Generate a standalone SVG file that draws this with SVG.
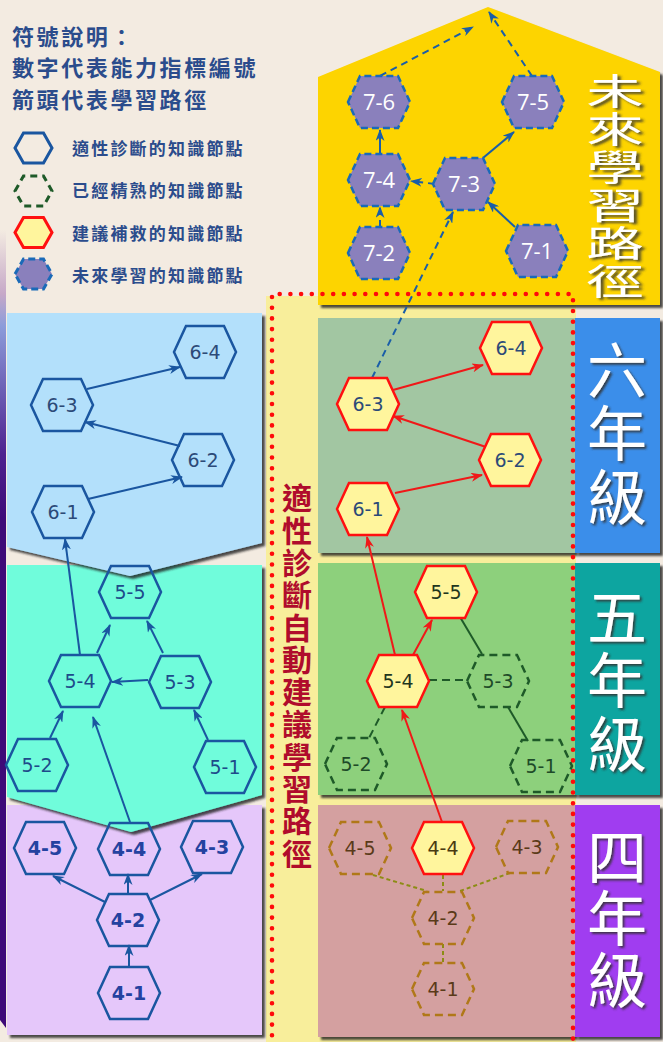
<svg xmlns="http://www.w3.org/2000/svg" xmlns:xlink="http://www.w3.org/1999/xlink" width="663" height="1042" viewBox="0 0 663 1042">
<style>
.nodeT{font-family:"DejaVu Sans","Liberation Sans",sans-serif;font-size:19px;text-anchor:middle}
.futT{font-family:"Open Sans","DejaVu Sans",sans-serif;font-size:22px;text-anchor:middle;fill:#ffffff}
.hb{fill:none;stroke:#1A56A0;stroke-width:2.5}
.hr{fill:#FFF59D;stroke:#FF1010;stroke-width:2.5}
.hg{fill:none;stroke:#1E5A28;stroke-width:2.5;stroke-dasharray:8 5}
.hbr{fill:none;stroke:#B07818;stroke-width:2.5;stroke-dasharray:8 5}
.hf{fill:#8A80BC;stroke:#1A6AB8;stroke-width:2.5;stroke-dasharray:7 4}
.lb{stroke:#1A56A0;stroke-width:2;fill:none;marker-end:url(#ab)}
.lr{stroke:#F01818;stroke-width:2;fill:none;marker-end:url(#ar)}
.lf{stroke:#1A5EA8;stroke-width:2;fill:none;marker-end:url(#af)}
.lfd{stroke:#1A5EA8;stroke-width:2;fill:none;stroke-dasharray:7 5;marker-end:url(#af)}
.gs{stroke:#1E5A28;stroke-width:2;fill:none}
.gd{stroke:#1E5A28;stroke-width:2;fill:none;stroke-dasharray:8 5}
.od{stroke:#8C8C14;stroke-width:2;fill:none;stroke-dasharray:4 3}
.leg{font-family:"Noto Sans CJK TC","Noto Sans CJK SC",sans-serif;font-weight:bold;fill:#2B4C8C}
.grade{font-family:"Noto Sans CJK TC","Noto Sans CJK SC",sans-serif;font-size:60px;fill:#ffffff;writing-mode:vertical-rl;filter:url(#ts)}
.fut{font-family:"Noto Sans CJK TC","Noto Sans CJK SC",sans-serif;font-size:36px;fill:#ffffff;writing-mode:vertical-rl;letter-spacing:2px;filter:url(#ts)}
.vred{font-family:"Noto Sans CJK TC","Noto Sans CJK SC",sans-serif;font-size:30px;font-weight:bold;fill:#B00C2C;writing-mode:vertical-rl;letter-spacing:2.3px}
</style>
<defs>
<path id="hex" d="M-31,0 L-19,-26 L19,-26 L31,0 L19,26 L-19,26 Z"/>
<path id="lhex" d="M-18.5,0 L-10,-15 L10,-15 L18.5,0 L10,15 L-10,15 Z"/>
<marker id="ab" markerUnits="userSpaceOnUse" markerWidth="12" markerHeight="9" refX="11" refY="4.5" orient="auto"><path d="M0,0 L12,4.5 L0,9 L3.5,4.5 Z" fill="#1A56A0"/></marker>
<marker id="ar" markerUnits="userSpaceOnUse" markerWidth="12" markerHeight="9" refX="11" refY="4.5" orient="auto"><path d="M0,0 L12,4.5 L0,9 L3.5,4.5 Z" fill="#F01818"/></marker>
<marker id="af" markerUnits="userSpaceOnUse" markerWidth="12" markerHeight="9" refX="11" refY="4.5" orient="auto"><path d="M0,0 L12,4.5 L0,9 L3.5,4.5 Z" fill="#1A5EA8"/></marker>
<filter id="sh" x="-5%" y="-5%" width="115%" height="115%"><feDropShadow dx="3" dy="3" stdDeviation="1.2" flood-color="#222" flood-opacity="0.8"/></filter>
<filter id="ts" x="-20%" y="-20%" width="150%" height="150%"><feDropShadow dx="2" dy="2" stdDeviation="1" flood-color="#333" flood-opacity="0.85"/></filter>
<linearGradient id="bar" x1="0" y1="230" x2="0" y2="1030" gradientUnits="userSpaceOnUse">
<stop offset="0" stop-color="#F3EBE1"/>
<stop offset="0.08" stop-color="#C6A8C8"/>
<stop offset="0.12" stop-color="#8C9CDA"/>
<stop offset="0.28" stop-color="#4E2290"/>
<stop offset="0.36" stop-color="#3E0A78"/>
<stop offset="1" stop-color="#3E0A78"/>
</linearGradient>
</defs>
<rect x="0" y="0" width="663" height="1042" fill="#F3EBE1"/>
<path d="M0,230 H6 V1028 L0,1020 Z" fill="url(#bar)"/>
<rect x="266" y="296" width="310" height="746" fill="#F8EE9B"/>
<g id="panel-left-4"><rect x="7" y="805" width="255" height="230" fill="#E5C7FA" filter="url(#sh)"/></g>
<g id="panel-left-5"><path d="M7,565 H262 V795 L131,832 L7,797 Z" fill="#6FFCDB" filter="url(#sh)"/></g>
<g id="panel-left-6"><path d="M7,313 H262 V543 L130,576 L7,547 Z" fill="#B3E0FB" filter="url(#sh)"/></g>
<g id="panel-future"><path d="M318,77 L488,7 L660,72 V305 H318 Z" fill="#FDD402" filter="url(#sh)"/>
<g transform="translate(615,0) scale(1.6,1)"><text class="fut" x="0" y="73">未來學習路徑</text></g></g>
<g id="panel-6"><rect x="318" y="318" width="257" height="235" fill="#A2C6A2" filter="url(#sh)"/><rect x="575" y="318" width="85" height="235" fill="#3A8EEA" filter="url(#sh)"/>
<text class="grade" x="617" y="340" style="letter-spacing:3.5px">六年級</text></g>
<g id="panel-5"><rect x="318" y="563" width="257" height="232" fill="#8DD07C" filter="url(#sh)"/><rect x="575" y="563" width="85" height="232" fill="#0DA5A0" filter="url(#sh)"/>
<text class="grade" x="617" y="587" style="letter-spacing:3.5px">五年級</text></g>
<g id="panel-4"><rect x="318" y="805" width="257" height="232" fill="#D4A0A0" filter="url(#sh)"/><rect x="575" y="805" width="85" height="232" fill="#A03CF0" filter="url(#sh)"/>
<text class="grade" x="617" y="827" style="letter-spacing:1.5px">四年級</text></g>
<path d="M272,1046 V294 H573 V1046" fill="none" stroke="#FF0A0A" stroke-width="4.6" stroke-linecap="round" stroke-dasharray="0 10.7"/>
<g id="vertical-label"><text class="vred" x="297" y="483">適性診斷自動建議學習路徑</text></g>
<g id="legend">
<text class="leg" x="12" y="45" style="font-size:22px;letter-spacing:2.6px">符號說明：</text>
<text class="leg" x="12" y="76" style="font-size:22px;letter-spacing:2.6px">數字代表能力指標編號</text>
<text class="leg" x="12" y="108" style="font-size:22px;letter-spacing:2.6px">箭頭代表學習路徑</text>
<use href="#lhex" x="33.5" y="148" fill="none" stroke="#1A56A0" stroke-width="3"/>
<use href="#lhex" x="33.5" y="191" fill="none" stroke="#1E5A28" stroke-width="3" stroke-dasharray="7 5"/>
<use href="#lhex" x="33.5" y="232.5" fill="#FFF59D" stroke="#FF1010" stroke-width="3"/>
<use href="#lhex" x="33.5" y="274" fill="#8A80BC" stroke="#1A6AB8" stroke-width="3" stroke-dasharray="7 4"/>
<text class="leg" x="72" y="155" style="font-size:17px;letter-spacing:2.2px">適性診斷的知識節點</text>
<text class="leg" x="72" y="197" style="font-size:17px;letter-spacing:2.2px">已經精熟的知識節點</text>
<text class="leg" x="72" y="240" style="font-size:17px;letter-spacing:2.2px">建議補救的知識節點</text>
<text class="leg" x="72" y="282" style="font-size:17px;letter-spacing:2.2px">未來學習的知識節點</text>
</g>
<g id="connectors">
<line class="lb" x1="87" y1="389" x2="180" y2="367"/>
<line class="lb" x1="180" y1="446" x2="85" y2="422"/>
<line class="lb" x1="88" y1="499" x2="182" y2="477"/>
<line class="lb" x1="80" y1="655" x2="65" y2="539"/>
<line class="lb" x1="97" y1="653" x2="110" y2="625"/>
<line class="lb" x1="163" y1="653" x2="147" y2="621"/>
<line class="lb" x1="148" y1="680" x2="112" y2="682"/>
<line class="lb" x1="50" y1="738" x2="63" y2="711"/>
<line class="lb" x1="208" y1="740" x2="194" y2="710"/>
<line class="lb" x1="130" y1="822" x2="93" y2="717"/>
<line class="lb" x1="105" y1="902" x2="53" y2="876"/>
<line class="lb" x1="128" y1="894" x2="128" y2="874"/>
<line class="lb" x1="150" y1="900" x2="202" y2="874"/>
<line class="lb" x1="129" y1="967" x2="129" y2="945"/>
<line class="lr" x1="393" y1="390" x2="483" y2="365"/>
<line class="lr" x1="486" y1="447" x2="393" y2="416"/>
<line class="lr" x1="395" y1="493" x2="482" y2="475"/>
<line class="lr" x1="395" y1="655" x2="367" y2="537"/>
<line class="lr" x1="413" y1="655" x2="432" y2="620"/>
<line class="lr" x1="442" y1="822" x2="402" y2="710"/>
<line class="gs" x1="460" y1="617" x2="482" y2="654"/>
<line class="gd" x1="429" y1="680" x2="468" y2="680"/>
<line class="gd" x1="385" y1="707" x2="369" y2="738"/>
<line class="gs" x1="508" y1="707" x2="528" y2="741"/>
<line class="od" x1="373" y1="875" x2="427" y2="891"/>
<line class="od" x1="443" y1="875" x2="443" y2="891"/>
<line class="od" x1="510" y1="873" x2="460" y2="891"/>
<line class="od" x1="443" y1="944" x2="443" y2="963"/>
<line class="lfd" x1="372" y1="378" x2="453" y2="212"/>
<line class="lfd" x1="380" y1="76" x2="473" y2="27"/>
<line class="lfd" x1="532" y1="76" x2="489" y2="12"/>
<line class="lf" x1="380" y1="154" x2="380" y2="130"/>
<line class="lfd" x1="380" y1="227" x2="380" y2="207"/>
<line class="lfd" x1="435" y1="184" x2="411" y2="181"/>
<line class="lf" x1="483" y1="158" x2="514" y2="132"/>
<line class="lf" x1="515" y1="227" x2="488" y2="202"/>
</g>
<g id="L6-4" transform="translate(205,352)"><use href="#hex" class="hb"/><text class="nodeT" y="7" fill="#2C4A78">6-4</text></g>
<g id="L6-3" transform="translate(62,405)"><use href="#hex" class="hb"/><text class="nodeT" y="7" fill="#2C4A78">6-3</text></g>
<g id="L6-2" transform="translate(203,460)"><use href="#hex" class="hb"/><text class="nodeT" y="7" fill="#2C4A78">6-2</text></g>
<g id="L6-1" transform="translate(63,512)"><use href="#hex" class="hb"/><text class="nodeT" y="7" fill="#2C4A78">6-1</text></g>
<g id="L5-5" transform="translate(130,592)"><use href="#hex" class="hb"/><text class="nodeT" y="7" fill="#1E4A8A">5-5</text></g>
<g id="L5-4" transform="translate(80,681)"><use href="#hex" class="hb"/><text class="nodeT" y="7" fill="#1E4A8A">5-4</text></g>
<g id="L5-3" transform="translate(180,682)"><use href="#hex" class="hb"/><text class="nodeT" y="7" fill="#1E4A8A">5-3</text></g>
<g id="L5-2" transform="translate(37,765)"><use href="#hex" class="hb"/><text class="nodeT" y="7" fill="#1E4A8A">5-2</text></g>
<g id="L5-1" transform="translate(225,767)"><use href="#hex" class="hb"/><text class="nodeT" y="7" fill="#1E4A8A">5-1</text></g>
<g id="L4-5" transform="translate(45,848)"><use href="#hex" class="hb"/><text class="nodeT" y="7" fill="#2442A0" font-weight="bold">4-5</text></g>
<g id="L4-4" transform="translate(129,849)"><use href="#hex" class="hb"/><text class="nodeT" y="7" fill="#2442A0" font-weight="bold">4-4</text></g>
<g id="L4-3" transform="translate(212,847)"><use href="#hex" class="hb"/><text class="nodeT" y="7" fill="#2442A0" font-weight="bold">4-3</text></g>
<g id="L4-2" transform="translate(128,920)"><use href="#hex" class="hb"/><text class="nodeT" y="7" fill="#2442A0" font-weight="bold">4-2</text></g>
<g id="L4-1" transform="translate(129,993)"><use href="#hex" class="hb"/><text class="nodeT" y="7" fill="#2442A0" font-weight="bold">4-1</text></g>
<g id="R6-4" transform="translate(511,348)"><use href="#hex" class="hr"/><text class="nodeT" y="7" fill="#2C4A78">6-4</text></g>
<g id="R6-3" transform="translate(368,404)"><use href="#hex" class="hr"/><text class="nodeT" y="7" fill="#2C4A78">6-3</text></g>
<g id="R6-2" transform="translate(510,460)"><use href="#hex" class="hr"/><text class="nodeT" y="7" fill="#2C4A78">6-2</text></g>
<g id="R6-1" transform="translate(368,509)"><use href="#hex" class="hr"/><text class="nodeT" y="7" fill="#2C4A78">6-1</text></g>
<g id="R5-5" transform="translate(446,592)"><use href="#hex" class="hr"/><text class="nodeT" y="7" fill="#1E361E">5-5</text></g>
<g id="R5-4" transform="translate(398,681)"><use href="#hex" class="hr"/><text class="nodeT" y="7" fill="#1E361E">5-4</text></g>
<g id="R5-3" transform="translate(498,681)"><use href="#hex" class="hg"/><text class="nodeT" y="7" fill="#1E4A28">5-3</text></g>
<g id="R5-2" transform="translate(356,764)"><use href="#hex" class="hg"/><text class="nodeT" y="7" fill="#1E4A28">5-2</text></g>
<g id="R5-1" transform="translate(541,766)"><use href="#hex" class="hg"/><text class="nodeT" y="7" fill="#1E4A28">5-1</text></g>
<g id="R4-5" transform="translate(360,848)"><use href="#hex" class="hbr"/><text class="nodeT" y="7" fill="#5A3A18">4-5</text></g>
<g id="R4-4" transform="translate(443,848)"><use href="#hex" class="hr"/><text class="nodeT" y="7" fill="#4A3A10">4-4</text></g>
<g id="R4-3" transform="translate(527,847)"><use href="#hex" class="hbr"/><text class="nodeT" y="7" fill="#5A3A18">4-3</text></g>
<g id="R4-2" transform="translate(443,918)"><use href="#hex" class="hbr"/><text class="nodeT" y="7" fill="#5A3A18">4-2</text></g>
<g id="R4-1" transform="translate(443,989)"><use href="#hex" class="hbr"/><text class="nodeT" y="7" fill="#5A3A18">4-1</text></g>
<g id="F7-6" transform="translate(379,102)"><use href="#hex" class="hf"/><text class="futT" y="8">7-6</text></g>
<g id="F7-5" transform="translate(533,102)"><use href="#hex" class="hf"/><text class="futT" y="8">7-5</text></g>
<g id="F7-4" transform="translate(379,180)"><use href="#hex" class="hf"/><text class="futT" y="8">7-4</text></g>
<g id="F7-3" transform="translate(464,184)"><use href="#hex" class="hf"/><text class="futT" y="8">7-3</text></g>
<g id="F7-2" transform="translate(379,253)"><use href="#hex" class="hf"/><text class="futT" y="8">7-2</text></g>
<g id="F7-1" transform="translate(537,251)"><use href="#hex" class="hf"/><text class="futT" y="8">7-1</text></g>
</svg>
